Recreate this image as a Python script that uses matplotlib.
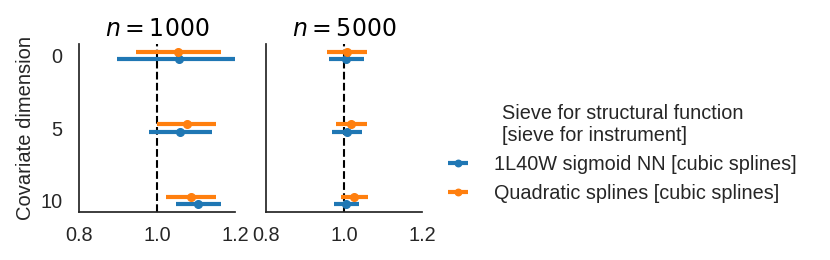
import numpy as np
import matplotlib.pyplot as plt

plt.rcParams['font.family'] = ['Liberation Sans', 'DejaVu Sans']
plt.rcParams['mathtext.fontset'] = 'dejavusans'

# covariate dimensions (categorical y axis)
dims = ['0', '5', '10']
sample_sizes = [1000, 5000]

# n = 1000
nn_est_1000 = [1.057, 1.059, 1.104]
nn_lo_1000 = [0.897, 0.979, 1.048]
nn_hi_1000 = [1.205, 1.140, 1.163]
qs_est_1000 = [1.054, 1.076, 1.086]
qs_lo_1000 = [0.946, 1.001, 1.023]
qs_hi_1000 = [1.165, 1.152, 1.151]

# n = 5000
nn_est_5000 = [1.005, 1.007, 1.005]
nn_lo_5000 = [0.962, 0.968, 0.975]
nn_hi_5000 = [1.051, 1.046, 1.038]
qs_est_5000 = [1.007, 1.018, 1.026]
qs_lo_5000 = [0.957, 0.979, 0.992]
qs_hi_5000 = [1.059, 1.058, 1.062]

labels = ['1L40W sigmoid NN [cubic splines]', 'Quadratic splines [cubic splines]']
colors = ['#1f77b4', '#ff7f0e']

panels = [
    [(nn_est_1000, nn_lo_1000, nn_hi_1000), (qs_est_1000, qs_lo_1000, qs_hi_1000)],
    [(nn_est_5000, nn_lo_5000, nn_hi_5000), (qs_est_5000, qs_lo_5000, qs_hi_5000)],
]

fig = plt.figure(figsize=(8.3, 2.6), dpi=100)
ax1 = fig.add_axes([0.0952, 0.1846, 0.188, 0.646])
ax2 = fig.add_axes([0.3205, 0.1846, 0.188, 0.646], sharey=ax1)

pos = np.arange(len(dims))
offsets = [0.05, -0.05]  # blue below, orange above
handles = []
for ax, n, series in zip([ax1, ax2], sample_sizes, panels):
    for (est, lo, hi), col, off, lab in zip(series, colors, offsets, labels):
        est = np.array(est)
        xerr = [est - np.array(lo), np.array(hi) - est]
        h = ax.errorbar(est, pos + off, xerr=xerr, fmt='o', color=col,
                        ms=5.5, elinewidth=3, capsize=0, label=lab)
        if ax is ax1:
            handles.append(h)
    ax.axvline(1.0, color='black', ls='--', lw=1.5, zorder=0)
    ax.set_xlim(0.8, 1.2)
    ax.set_xticks([0.8, 1.0, 1.2])
    ax.set_title(r'$n = %d$' % n, fontsize=17)
    for s in ['top', 'right']:
        ax.spines[s].set_visible(False)
    for s in ['left', 'bottom']:
        ax.spines[s].set_color('#262626')
        ax.spines[s].set_linewidth(1.25)
    ax.tick_params(length=0, labelsize=14.3, colors='#262626')
    ax.tick_params(axis='x', pad=10)
    ax.tick_params(axis='y', pad=12)

ax1.set_ylim(2.16, -0.16)
ax1.set_yticks(pos)
ax1.set_yticklabels(dims)
ax1.set_ylabel('Covariate dimension', fontsize=14.5, color='#262626')
ax2.tick_params(labelleft=False)

leg = fig.legend(handles, labels, loc='center left', bbox_to_anchor=(0.518, 0.41),
                 frameon=False, fontsize=14.3, title_fontsize=14.3,
                 handlelength=1.05, handletextpad=1.3, markerscale=0.85,
                 title='Sieve for structural function\n[sieve for instrument]')
plt.setp(leg.get_texts(), color='#262626')
leg.get_title().set_color('#262626')

fig.savefig('out.png', dpi=100)
